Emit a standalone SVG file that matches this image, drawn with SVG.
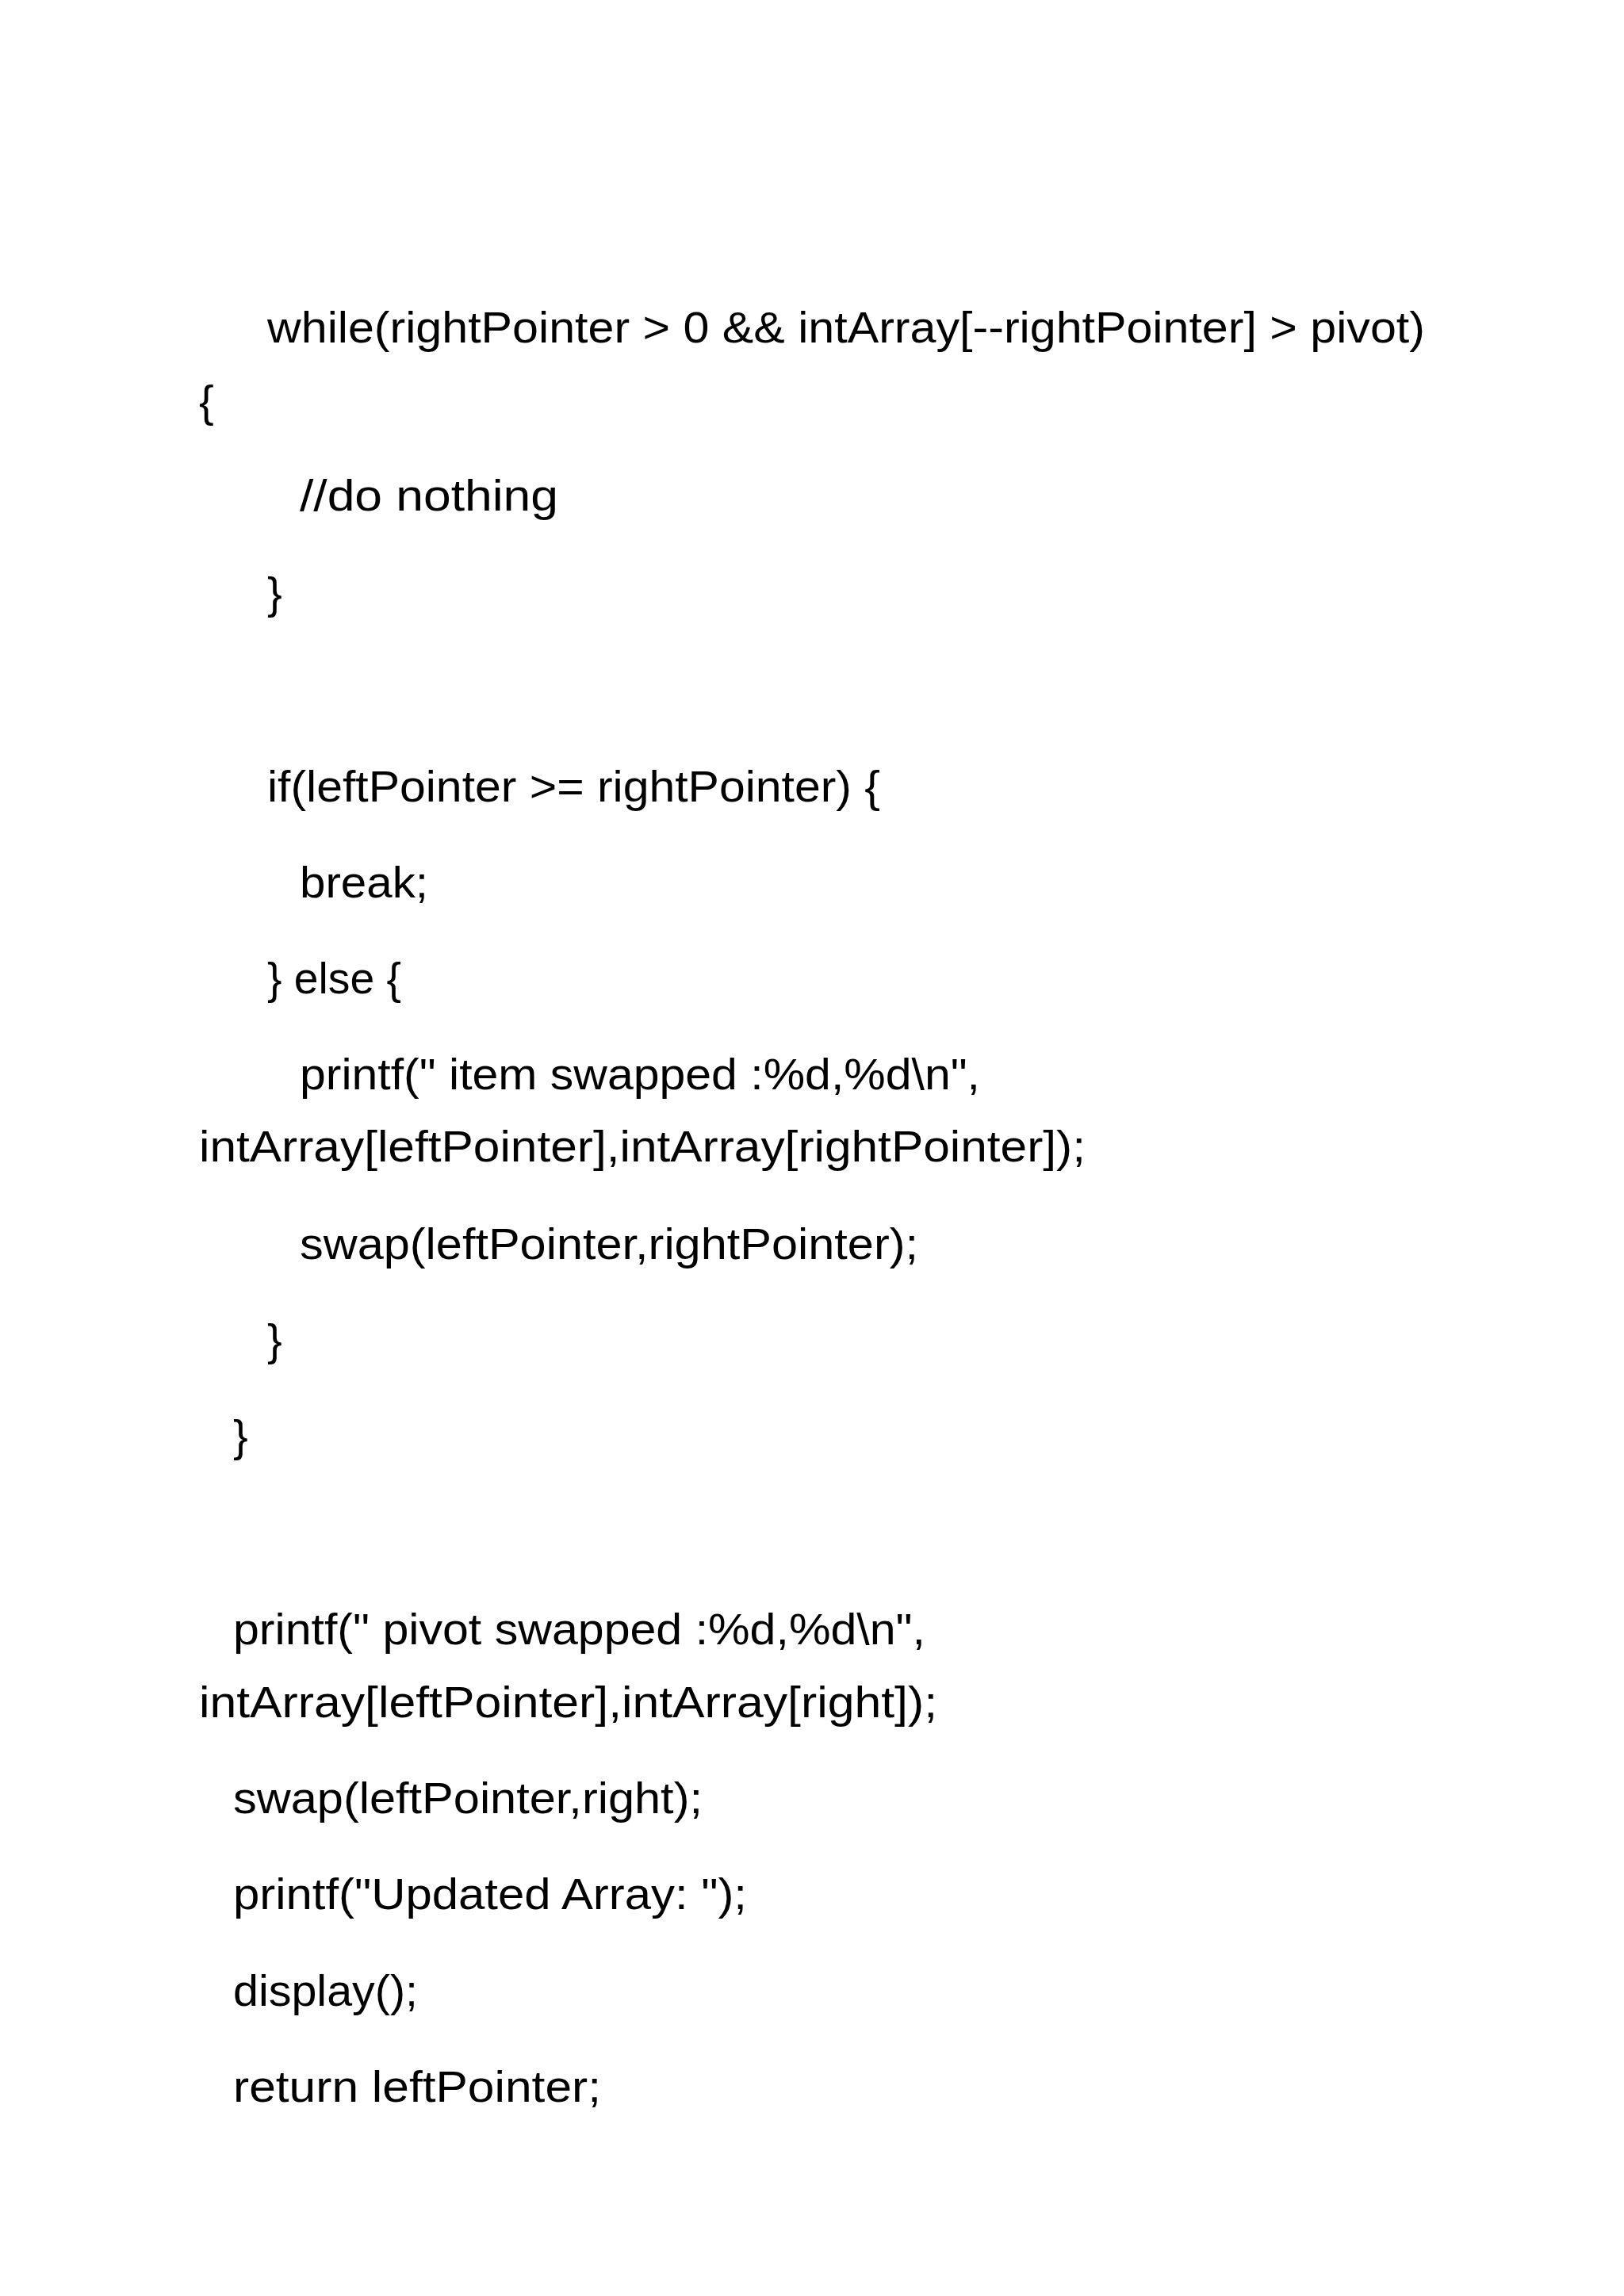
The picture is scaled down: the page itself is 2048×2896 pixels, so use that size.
<svg xmlns="http://www.w3.org/2000/svg" width="2048" height="2896" viewBox="0 0 2048 2896">
<style>text{font-family:"Liberation Sans",Arial,sans-serif;font-size:56px;fill:#000}</style>
<rect width="2048" height="2896" fill="#fff"/>
<text x="337" y="432" textLength="1460" lengthAdjust="spacingAndGlyphs">while(rightPointer &gt; 0 &amp;&amp; intArray[--rightPointer] &gt; pivot)</text>
<text x="251" y="525">{</text>
<text x="378" y="644" textLength="326" lengthAdjust="spacingAndGlyphs">//do nothing</text>
<text x="337" y="767">}</text>
<text x="337" y="1011" textLength="773" lengthAdjust="spacingAndGlyphs">if(leftPointer &gt;= rightPointer) {</text>
<text x="378" y="1132" textLength="162" lengthAdjust="spacingAndGlyphs">break;</text>
<text x="337" y="1253" textLength="169" lengthAdjust="spacingAndGlyphs">} else {</text>
<text x="378" y="1374" textLength="858" lengthAdjust="spacingAndGlyphs">printf(" item swapped :%d,%d\n",</text>
<text x="251" y="1465" textLength="1118" lengthAdjust="spacingAndGlyphs">intArray[leftPointer],intArray[rightPointer]);</text>
<text x="378" y="1588" textLength="780" lengthAdjust="spacingAndGlyphs">swap(leftPointer,rightPointer);</text>
<text x="337" y="1709">}</text>
<text x="294" y="1830">}</text>
<text x="294" y="2074" textLength="873" lengthAdjust="spacingAndGlyphs">printf(" pivot swapped :%d,%d\n",</text>
<text x="251" y="2166" textLength="931" lengthAdjust="spacingAndGlyphs">intArray[leftPointer],intArray[right]);</text>
<text x="294" y="2287" textLength="592" lengthAdjust="spacingAndGlyphs">swap(leftPointer,right);</text>
<text x="294" y="2408" textLength="648" lengthAdjust="spacingAndGlyphs">printf("Updated Array: ");</text>
<text x="294" y="2530" textLength="233" lengthAdjust="spacingAndGlyphs">display();</text>
<text x="294" y="2651" textLength="464" lengthAdjust="spacingAndGlyphs">return leftPointer;</text>
</svg>
